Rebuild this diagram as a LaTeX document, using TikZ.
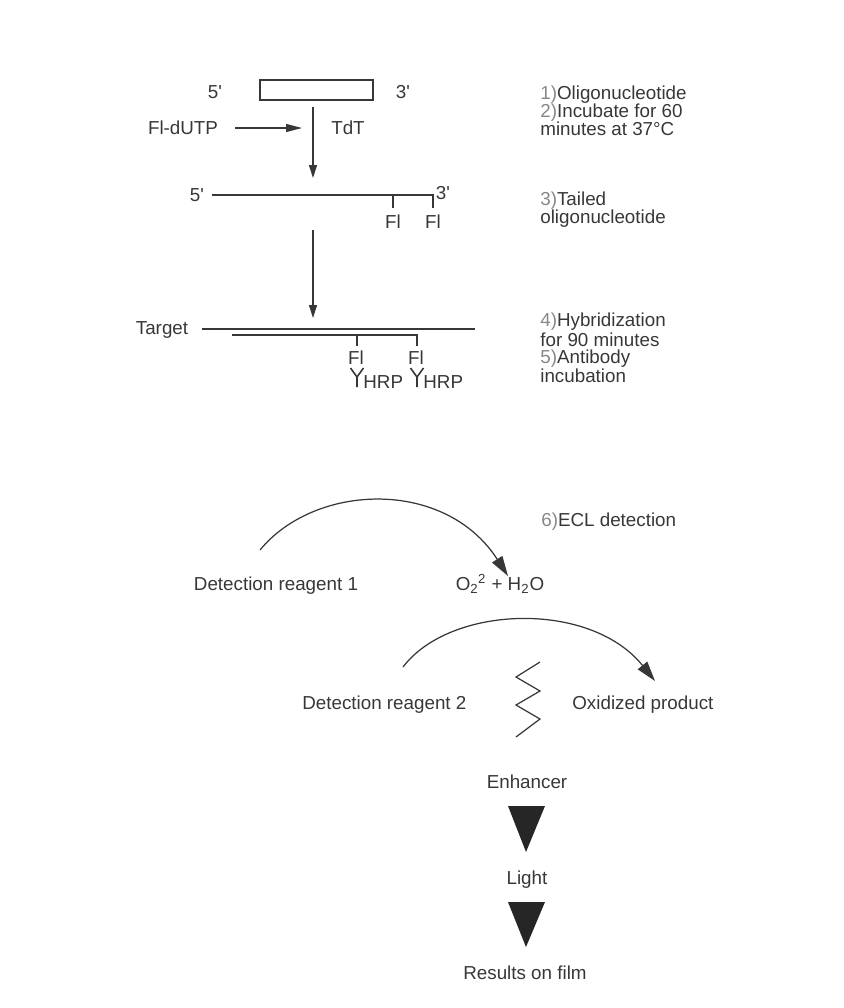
\documentclass[tikz,border=0pt]{standalone}
\usepackage{fontspec}
\setmainfont{Liberation Sans}
\usetikzlibrary{arrows.meta}

\definecolor{ink}{RGB}{55,55,55}
\definecolor{stepgray}{RGB}{135,135,135}
\newcommand{\stepnum}[1]{{\color{stepgray}#1)}}
\newcommand{\primemark}{\textquotesingle}

\tikzset{
  lbl/.style={inner sep=0pt, text=ink, text height=7.6pt, text depth=0pt,
    font=\fontsize{10.7}{10.3}\selectfont},
  steptext/.style={inner sep=0pt, text=ink, align=left, anchor=north west,
    font=\fontsize{10.7}{10.3}\selectfont},
  strand/.style={draw=ink, line width=0.7pt},
  flow/.style={strand, -{Triangle[length=2.6mm,width=1.6mm]}},
  react/.style={strand, -{Triangle[length=4mm,width=2.4mm]}},
}

\begin{document}
\begin{tikzpicture}[x=0.02cm, y=-0.02cm]
  \useasboundingbox (0,0) rectangle (844,1008);

  %% oligonucleotide + tailing with TdT
  \node (oligo) [draw=ink, line width=0.7pt, minimum width=2.26cm, minimum height=0.4cm, inner sep=0pt] at (316.5,90) {};
  \node (p5a) [lbl] at (215,92) {5\primemark};
  \node (p3a) [lbl] at (403,92) {3\primemark};
  \node (fldutp) [lbl] at (183,128) {Fl-dUTP};
  \node (tdt) [lbl] at (348,128) {TdT};
  \coordinate (tdtin) at (302,128);
  \coordinate (tailtop) at (313,107);
  \coordinate (tailbot) at (313,178);
  \draw [flow] (tailtop) -- (tailbot);
  \draw [strand, -{Triangle[length=3.2mm,width=1.6mm]}] ([xshift=0.34cm]fldutp.east) -- (tdtin);

  %% tailed oligonucleotide
  \node (p5b) [lbl] at (197,195) {5\primemark};
  \node (p3b) [lbl] at (443,193) {3\primemark};
  \node (flb1) [lbl] at (393,222) {Fl};
  \node (flb2) [lbl] at (433,222) {Fl};
  \coordinate (tailL) at (212,195);
  \coordinate (tailR) at (433,195);
  \draw [strand] (tailL) -- (tailR) -- ++(0,13);
  \draw [strand] (tailR -| flb1) -- ++(0,13);
  \coordinate (hybtop) at (313,230);
  \coordinate (hybbot) at (313,318);
  \draw [flow] (hybtop) -- (hybbot);

  %% hybridization and antibody
  \node (target) [lbl] at (162,328) {Target};
  \coordinate (targL) at (202,329);
  \coordinate (targR) at (475,329);
  \draw [strand] (targL) -- (targR);
  \coordinate (probeL) at (232,335);
  \coordinate (probeR) at (417,335);
  \draw [strand] (probeL) -- (probeR) -- ++(0,11);
  \draw [strand] (357,335) -- ++(0,11);
  \foreach \x/\n in {357/1, 417/2} {
    \node (flc\n) [lbl] at (\x-1,358) {Fl};
    \draw [strand, line width=0.9pt] (\x-6.5,368) -- (\x,377) -- (\x+6.5,368) (\x,377) -- (\x,387);
    \node (hrp\n) [lbl, anchor=west] at (\x+6,382) {HRP};
  }

  %% steps
  \node (step12) [steptext] at (540,85.5) {\stepnum{1}Oligonucleotide\\\stepnum{2}Incubate for 60\\minutes at 37\textdegree C};
  \node (step3) [steptext] at (540,191.5) {\stepnum{3}Tailed\\oligonucleotide};
  \node (step45) [steptext, font=\fontsize{10.7}{9.8}\selectfont] at (540,313) {\stepnum{4}Hybridization\\for 90 minutes\\\stepnum{5}Antibody\\incubation};
  \node (step6) [steptext] at (541,512.5) {\stepnum{6}ECL detection};

  %% ECL detection
  \node (reag1) [lbl] at (276,584) {Detection reagent 1};
  \node (perox) [lbl] at (500,584) {O\textsubscript{2}\kern-0.3pt\textsuperscript{2} + H\textsubscript{2}O};
  \coordinate (arcAs) at (260,550);
  \coordinate (arcAe) at (508,576);
  \draw [react] (arcAs) .. controls (315,483) and (445,478) .. (arcAe);

  \node (reag2) [lbl, anchor=west] at (302,703) {Detection reagent 2};
  \node (oxprod) [lbl, anchor=west] at (572,703) {Oxidized product};
  \coordinate (arcBs) at (403,667);
  \coordinate (arcBe) at (655,681);
  \draw [react] (arcBs) .. controls (450,605) and (590,600) .. (arcBe);
  \draw [strand] (540,662) -- (516,677) -- (540,691) -- (516,705) -- (540,719) -- (516,737);

  \node (enh) [lbl] at (527,782) {Enhancer};
  \fill [black!85] (508,806) -- (545,806) -- (526,852) -- cycle;
  \node (light) [lbl] at (527,878) {Light};
  \fill [black!85] (508,902) -- (545,902) -- (526,947) -- cycle;
  \node (film) [lbl] at (525,973) {Results on film};
\end{tikzpicture}
\end{document}
